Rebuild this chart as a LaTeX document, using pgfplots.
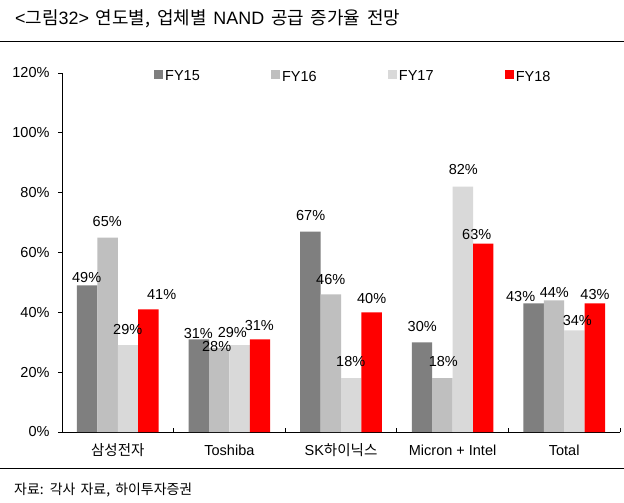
\documentclass[border=0pt]{standalone}
\usepackage{graphicx}
\usepackage{pgfplots}
\pgfplotsset{compat=1.18}
\usepackage{fontspec}
\setmainfont{Liberation Sans}
\newfontfamily\kr{Noto Sans CJK KR}
\definecolor{cA}{HTML}{7F7F7F}
\definecolor{cB}{HTML}{BFBFBF}
\definecolor{cC}{HTML}{D9D9D9}
\definecolor{cD}{HTML}{FF0000}
\pgfplotsset{legsq/.style={legend image code/.code={\fill[##1] (0pt,-2pt) rectangle (9pt,7pt);}}}
\pgfplotstableread{
x y v
-0.279 51.5 49
-0.095 70.3 65
0.089 34.4 29
0.393 45.8 41
0.721 33.0 31
0.886 28.7 28
1.026 33.2 29
1.268 35.5 31
1.728 72.2 67
1.908 51.0 46
2.087 23.5 18
2.275 44.7 40
2.728 35.2 30
2.917 23.5 18
3.096 87.6 82
3.216 66.1 63
3.610 45.2 43
3.911 46.7 44
4.117 37.2 34
4.276 46.1 43
}\labtab
\begin{document}
\begin{tikzpicture}
\path[use as bounding box] (0pt,0pt) rectangle (624pt,-503pt);
\fill[white] (0pt,0pt) rectangle (624pt,-503pt);
\draw[line width=1pt] (0pt,-42pt) -- (624pt,-42pt);
\draw[line width=1pt] (0pt,-468pt) -- (624pt,-468pt);
\node[anchor=base west, inner sep=0pt] at (15pt,-25pt)
  {\resizebox{385pt}{!}{\fontsize{17}{20}\selectfont\spaceskip=6.5pt <{\kr 그림}32> {\kr 연도별,} {\kr 업체별} NAND {\kr 공급} {\kr 증가율} {\kr 전망}}};
\node[anchor=base west, inner sep=0pt] at (14pt,-494pt)
  {\resizebox{178pt}{!}{\kr\fontsize{13.5}{16}\selectfont\spaceskip=5pt 자료: 각사 자료, 하이투자증권}};
\begin{axis}[
  at={(62pt,-432pt)}, anchor=south west,
  scale only axis, width=558pt, height=359pt,
  xmin=-0.5, xmax=4.5, ymin=0, ymax=120,
  axis x line*=bottom, axis y line*=left,
  axis line style={-, line width=0.9pt},
  xtick={-0.5,0.5,...,4.5}, xticklabels={},
  extra x ticks={0,1,2,3,4},
  extra x tick labels={{\kr 삼성전자},Toshiba,SK{\kr 하이닉스},Micron + Intel,Total},
  extra x tick style={major tick length=0pt},
  xticklabel style={text height=11pt, text depth=3pt, yshift=-9pt},
  ytick={0,20,...,120},
  yticklabel={\pgfmathprintnumber{\tick}\%},
  yticklabel style={xshift=-9pt},
  tick align=inside, major tick length=4pt,
  tick style={line width=0.9pt, black},
  ytick style={xshift=-4pt},
  ticklabel style={font=\fontsize{14.5}{17}\selectfont},
  /pgf/number format/assume math mode=true,
  legend columns=4,
  legend style={at={(0.1649,0.9897)}, anchor=west, draw=none, fill=none, inner sep=0pt,
    font=\fontsize{14.5}{17}\selectfont,
    /tikz/every even column/.append style={column sep=69.2pt}},
]
\addplot[ybar, bar width=0.1828, bar shift=-0.2742, fill=cA, draw=none, legsq]
  coordinates {(0,49) (1,31) (2,67) (3,30) (4,43)};
\addlegendentry{FY15}
\addplot[ybar, bar width=0.1828, bar shift=-0.0914, fill=cB, draw=none, legsq]
  coordinates {(0,65) (1,28) (2,46) (3,18) (4,44)};
\addlegendentry{FY16}
\addplot[ybar, bar width=0.1828, bar shift=0.0914, fill=cC, draw=none, legsq]
  coordinates {(0,29) (1,29) (2,18) (3,82) (4,34)};
\addlegendentry{FY17}
\addplot[ybar, bar width=0.1828, bar shift=0.2742, fill=cD, draw=none, legsq]
  coordinates {(0,41) (1,31) (2,40) (3,63) (4,43)};
\addlegendentry{FY18}
\addplot[draw=none, mark=none, forget plot, point meta=explicit,
  nodes near coords={\pgfmathprintnumber{\pgfplotspointmeta}\%},
  every node near coord/.append style={anchor=center, inner sep=0pt, text=black,
    font=\fontsize{14.5}{17}\selectfont}]
  table[x=x, y=y, meta=v] {\labtab};
\end{axis}
\end{tikzpicture}
\end{document}
